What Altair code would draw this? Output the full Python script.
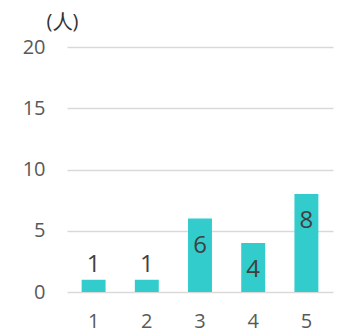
import altair as alt
import pandas as pd

categories = ["1", "2", "3", "4", "5"]
counts = [1, 1, 6, 4, 8]
y_ticks = [0, 5, 10, 15, 20]
unit = "(人)"

df = pd.DataFrame({"cat": categories, "n": counts})

FONT = "Open Sans"

base = alt.Chart(df).encode(
    x=alt.X("cat:N", sort=categories, title=None,
            scale=alt.Scale(paddingInner=0.55, paddingOuter=0.275),
            axis=alt.Axis(labelAngle=0, labelFontSize=20, labelColor="#595959",
                          labelFont=FONT, labelPadding=19, ticks=False, domain=False,
                          grid=False)),
    y=alt.Y("n:Q", title=unit,
            scale=alt.Scale(domain=[0, 20], nice=False),
            axis=alt.Axis(values=y_ticks, labelFontSize=20, labelColor="#595959",
                          labelFont=FONT, labelPadding=22, ticks=False, domain=False,
                          grid=True, gridColor="#D9D9D9", gridWidth=1.5,
                          titleAngle=0, titleAlign="center", titleBaseline="middle",
                          titleX=-5, titleY=-26, titleFont=FONT, titleFontSize=20,
                          titleFontWeight="normal", titleColor="#333333")),
)

bars = base.mark_bar(color="#33CCCC")

inside = base.transform_filter(alt.datum.n >= 3).mark_text(
    baseline="middle", dy=27, fontSize=24, font=FONT, color="#404040"
).encode(text="n:Q")

above = base.transform_filter(alt.datum.n < 3).mark_text(
    baseline="bottom", dy=-3, fontSize=24, font=FONT, color="#404040"
).encode(text="n:Q")

chart = (bars + inside + above).properties(
    width=266, height=245,
    background="white",
    autosize=alt.AutoSizeParams(type="none"),
    padding={"left": 67, "top": 47, "right": 7, "bottom": 40},
).configure_view(stroke=None)

chart.save("out.html", embed_options={"renderer": "svg", "actions": False})
